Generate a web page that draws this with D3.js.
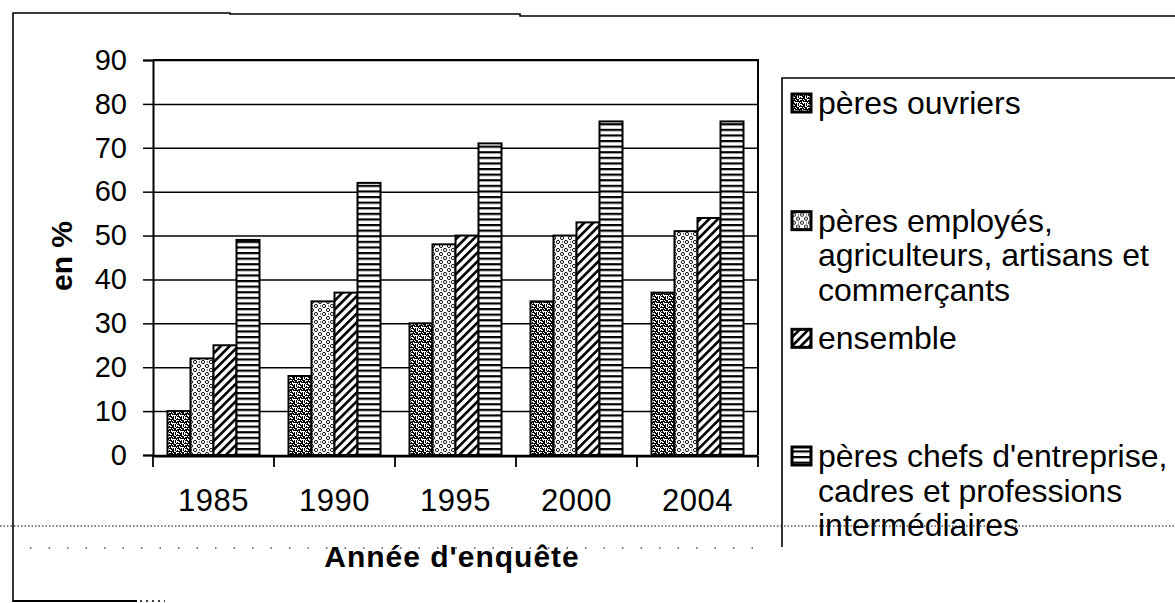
<!DOCTYPE html>
<html>
<head>
<meta charset="utf-8">
<script src="https://cdn.jsdelivr.net/npm/d3@7"></script>
<style>
  html, body { margin: 0; padding: 0; background: #fff; }
  svg { display: block; }
  text { font-family: "Liberation Sans", Arial, Helvetica, sans-serif; fill: #000; }
</style>
</head>
<body>
<div id="chart"></div>
<script>
// Survey years (categories)
const years = ['1985', '1990', '1995', '2000', '2004'];

// Series values, in %
const ouvriers = [10, 18, 30, 35, 37];
const employes = [22, 35, 48, 50, 51];
const ensemble = [25, 37, 50, 53, 54];
const chefs = [49, 62, 71, 76, 76];

// Legend labels (one array of lines per series)
const seriesLabels = [
    ['pères ouvriers'],
    ['pères employés,', 'agriculteurs, artisans et', 'commerçants'],
    ['ensemble'],
    ["pères chefs d'entreprise,", 'cadres et professions', 'intermédiaires']
];
const seriesPatterns = ['pat-ouvriers', 'pat-employes', 'pat-ensemble', 'pat-chefs'];
const series = [ouvriers, employes, ensemble, chefs];

const yTicks = [0, 10, 20, 30, 40, 50, 60, 70, 80, 90];
const yTitle = 'en %';
const xTitle = "Année d'enquête";

const W = 1175, H = 603;
const plot = { left: 153, right: 758, top: 60, bottom: 455 };

const svg = d3.select('#chart').append('svg')
    .attr('width', W)
    .attr('height', H);

// ---------------------------------------------------------------------------
// Fill patterns (black and white, like the scanned original)
// ---------------------------------------------------------------------------
const defs = svg.append('defs');

// dense irregular texture
const p1 = defs.append('pattern')
    .attr('id', 'pat-ouvriers')
    .attr('patternUnits', 'userSpaceOnUse')
    .attr('width', 8).attr('height', 8);
p1.append('rect').attr('width', 8).attr('height', 8).attr('fill', '#fff');
[[0,0,3,1],[3,1,2,2],[6,0,1,3],[1,3,3,1],[5,4,2,2],[0,5,2,2],[3,6,3,1],[7,7,1,1],[2,1,1,1],
 [4,3,1,2],[6,6,2,1],[1,7,1,1],[7,3,1,1],[0,2,1,2],[2,4,1,2],[4,0,1,1],[6,2,1,1],[3,5,1,1]]
    .forEach(r => p1.append('rect')
        .attr('x', r[0]).attr('y', r[1]).attr('width', r[2]).attr('height', r[3])
        .attr('fill', '#000'));

// small rings
const p2 = defs.append('pattern')
    .attr('id', 'pat-employes')
    .attr('patternUnits', 'userSpaceOnUse')
    .attr('width', 8).attr('height', 8);
p2.append('rect').attr('width', 8).attr('height', 8).attr('fill', '#fff');
[[2, 2], [6, 6]].forEach(c => p2.append('circle')
    .attr('cx', c[0]).attr('cy', c[1]).attr('r', 1.6)
    .attr('fill', 'none').attr('stroke', '#000').attr('stroke-width', 0.9));
p2.append('rect').attr('x', 6).attr('y', 1.5).attr('width', 1).attr('height', 1).attr('fill', '#000');

// diagonal stripes
const p3 = defs.append('pattern')
    .attr('id', 'pat-ensemble')
    .attr('patternUnits', 'userSpaceOnUse')
    .attr('width', 6.2).attr('height', 6.2)
    .attr('patternTransform', 'rotate(45)');
p3.append('rect').attr('width', 6.2).attr('height', 6.2).attr('fill', '#fff');
p3.append('rect').attr('width', 2.6).attr('height', 6.2).attr('fill', '#000');

// horizontal stripes
const p4 = defs.append('pattern')
    .attr('id', 'pat-chefs')
    .attr('patternUnits', 'userSpaceOnUse')
    .attr('width', 6).attr('height', 5.6);
p4.append('rect').attr('width', 6).attr('height', 5.6).attr('fill', '#fff');
p4.append('rect').attr('y', 0).attr('width', 6).attr('height', 2.2).attr('fill', '#000');

// ---------------------------------------------------------------------------
// Scales
// ---------------------------------------------------------------------------
const x = d3.scaleBand()
    .domain(years)
    .range([plot.left, plot.right])
    .padding(0);

const xSub = d3.scaleBand()
    .domain(d3.range(series.length))
    .range([0, x.bandwidth()])
    .paddingInner(0)
    .paddingOuter(0.63);

const y = d3.scaleLinear()
    .domain([0, 90])
    .range([plot.bottom, plot.top]);

// ---------------------------------------------------------------------------
// Scanned page frame (decoration)
// ---------------------------------------------------------------------------
const frame = svg.append('g').attr('stroke', '#000').attr('fill', 'none');
frame.append('path').attr('d', 'M13,602 L13,13 L230,13 L230,14 L520,14 L520,16 L1175,16').attr('stroke-width', 1.6);
frame.append('path').attr('d', 'M13,601 L137,601').attr('stroke-width', 1.8);
frame.append('path').attr('d', 'M140,601 L165,601').attr('stroke-width', 1.5).attr('stroke-dasharray', '2,4');
frame.append('line')
    .attr('x1', 0).attr('x2', W).attr('y1', 526).attr('y2', 526)
    .attr('stroke-width', 1.2).attr('stroke-dasharray', '1.5,2');
frame.append('line')
    .attr('x1', 30).attr('x2', 770).attr('y1', 548).attr('y2', 548)
    .attr('stroke-width', 1.2).attr('stroke-dasharray', '1.5,17');

// ---------------------------------------------------------------------------
// Gridlines and axes
// ---------------------------------------------------------------------------
svg.append('g')
    .attr('transform', `translate(${plot.left},0)`)
    .call(d3.axisLeft(y).tickValues(yTicks).tickSize(-(plot.right - plot.left)).tickFormat(''))
    .call(g => g.select('.domain').remove())
    .call(g => g.selectAll('line').attr('stroke', '#000').attr('stroke-width', 1.5));

// plot border: top and right
svg.append('path')
    .attr('d', `M${plot.left},${plot.top} L${plot.right},${plot.top} L${plot.right},${plot.bottom}`)
    .attr('fill', 'none').attr('stroke', '#000').attr('stroke-width', 2);

// y axis
svg.append('g')
    .attr('transform', `translate(${plot.left},0)`)
    .call(d3.axisLeft(y).tickValues(yTicks).tickSize(10).tickPadding(16))
    .call(g => g.select('.domain').attr('stroke-width', 2))
    .call(g => g.selectAll('line').attr('stroke-width', 1.5))
    .call(g => g.selectAll('text')
        .style('font-size', '29px')
        .style('font-family', '"Liberation Sans", Arial, sans-serif'));

// ---------------------------------------------------------------------------
// Bars
// ---------------------------------------------------------------------------
const groups = svg.append('g').selectAll('g')
    .data(years)
    .join('g')
    .attr('transform', d => `translate(${x(d)},0)`);

groups.selectAll('rect')
    .data((d, i) => series.map((s, k) => ({ k, value: s[i] })))
    .join('rect')
    .attr('x', d => xSub(d.k))
    .attr('y', d => y(d.value))
    .attr('width', xSub.bandwidth())
    .attr('height', d => y(0) - y(d.value))
    .attr('fill', d => `url(#${seriesPatterns[d.k]})`)
    .attr('stroke', '#000')
    .attr('stroke-width', 2);

// x axis: line, ticks at category boundaries, year labels
const xAxis = svg.append('g')
    .attr('transform', `translate(0,${plot.bottom + 1})`);
xAxis.call(d3.axisBottom(x).tickSize(0).tickPadding(33))
    .call(g => g.select('.domain').attr('stroke-width', 2))
    .call(g => g.selectAll('text')
        .style('font-size', '31px')
        .style('letter-spacing', '0.5px')
        .style('font-family', '"Liberation Sans", Arial, sans-serif'));
xAxis.selectAll('.boundary')
    .data(years.map(d => x(d)).concat([x.range()[1]]))
    .join('line')
    .attr('class', 'boundary')
    .attr('x1', d => d).attr('x2', d => d)
    .attr('y1', 0).attr('y2', 11)
    .attr('stroke', '#000').attr('stroke-width', 1.8);

// ---------------------------------------------------------------------------
// Axis titles
// ---------------------------------------------------------------------------
svg.append('text')
    .attr('transform', 'translate(72,256) rotate(-90)')
    .attr('text-anchor', 'middle')
    .style('font-size', '30px')
    .style('font-weight', 'bold')
    .text(yTitle);

svg.append('text')
    .attr('x', 452)
    .attr('y', 567)
    .attr('text-anchor', 'middle')
    .style('font-size', '30px')
    .style('font-weight', 'bold')
    .style('letter-spacing', '1px')
    .text(xTitle);

// ---------------------------------------------------------------------------
// Legend
// ---------------------------------------------------------------------------
const legend = svg.append('g');
legend.append('path')
    .attr('d', `M782,547 L782,78 L${W},78`)
    .attr('fill', 'none').attr('stroke', '#000').attr('stroke-width', 1.6);

const itemY = d3.scaleLinear().domain([0, 3]).range([103, 456]);

const items = legend.selectAll('.item')
    .data(seriesLabels)
    .join('g')
    .attr('class', 'item')
    .attr('transform', (d, i) => `translate(0,${itemY(i)})`);

items.append('rect')
    .attr('x', 792).attr('y', -9)
    .attr('width', 19).attr('height', 18)
    .attr('fill', (d, i) => `url(#${seriesPatterns[i]})`)
    .attr('stroke', '#000').attr('stroke-width', 3);

items.selectAll('text')
    .data(d => d)
    .join('text')
    .attr('x', 818)
    .attr('y', (d, j) => j * 34.5 + 11)
    .style('font-size', '32px')
    .text(d => d);
</script>
</body>
</html>
